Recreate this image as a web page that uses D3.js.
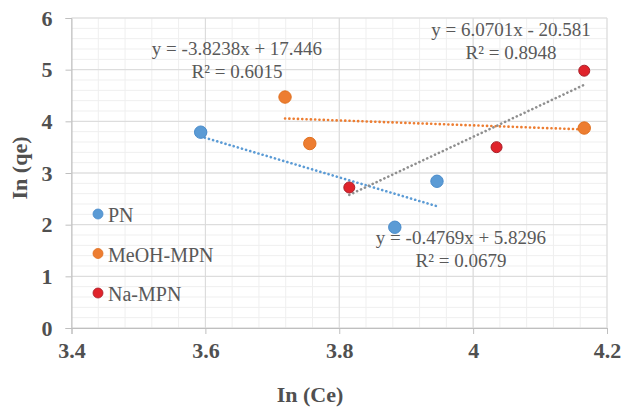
<!DOCTYPE html>
<html>
<head>
<meta charset="utf-8">
<script src="https://cdn.jsdelivr.net/npm/d3@7"></script>
<style>
  body { margin: 0; background: #fff; }
  svg text { font-family: "Liberation Serif", "Times New Roman", serif; }
</style>
</head>
<body>
<div id="chart"></div>
<script>
// series names and values
const seriesNames = ["PN", "MeOH-MPN", "Na-MPN"];
const pnX = [3.593, 3.883, 3.946];
const pnY = [3.79, 1.95, 2.84];
const meohX = [3.719, 3.756, 4.166];
const meohY = [4.47, 3.57, 3.87];
const naX = [3.815, 4.035, 4.166];
const naY = [2.72, 3.50, 4.98];

// trendline coefficients as printed on the chart
const slopes = [-3.8238, -0.4769, 6.0701];
const intercepts = [17.446, 5.8296, -20.581];
const eqLabels = ["y = -3.8238x + 17.446", "y = -0.4769x + 5.8296", "y = 6.0701x - 20.581"];
const r2Labels = ["R² = 0.6015", "R² = 0.0679", "R² = 0.8948"];

const xTicks = [3.4, 3.6, 3.8, 4.0, 4.2];
const yTicks = [0, 1, 2, 3, 4, 5, 6];

const width = 622, height = 410;
const margin = {top: 18, right: 15, bottom: 82, left: 71.5};

const colors = ["#5b9bd5", "#ed7d31", "#e0232b"];
const strokes = ["#4a8ccb", "#e0701f", "#a8202a"];
const trendColors = ["#5b9bd5", "#ed7d31", "#8f8f8f"];
const serif = "'Liberation Serif', 'Times New Roman', serif";

const svg = d3.select("#chart").append("svg")
    .attr("width", width)
    .attr("height", height);

const x = d3.scaleLinear().domain([3.4, 4.2]).range([margin.left, width - margin.right]);
const y = d3.scaleLinear().domain([0, 6]).range([height - margin.bottom, margin.top]);

// minor grid
const grid = svg.append("g");
grid.selectAll(".vminor")
    .data(d3.range(0, 21).map(i => 3.4 + i * 0.04))
    .join("line")
    .attr("x1", d => x(d)).attr("x2", d => x(d))
    .attr("y1", y(0)).attr("y2", y(6))
    .attr("stroke", "#efefef").attr("stroke-width", 1);
grid.selectAll(".hminor")
    .data(d3.range(0, 31).map(i => i * 0.2))
    .join("line")
    .attr("y1", d => y(d)).attr("y2", d => y(d))
    .attr("x1", x(3.4)).attr("x2", x(4.2))
    .attr("stroke", "#efefef").attr("stroke-width", 1);

// major grid
grid.selectAll(".vmajor")
    .data(xTicks)
    .join("line")
    .attr("x1", d => x(d)).attr("x2", d => x(d))
    .attr("y1", y(0)).attr("y2", y(6))
    .attr("stroke", "#d9d9d9").attr("stroke-width", 1);
grid.selectAll(".hmajor")
    .data(yTicks)
    .join("line")
    .attr("y1", d => y(d)).attr("y2", d => y(d))
    .attr("x1", x(3.4)).attr("x2", x(4.2))
    .attr("stroke", "#d9d9d9").attr("stroke-width", 1);

// axes
const xAxis = svg.append("g")
    .attr("transform", `translate(0,${y(0)})`)
    .call(d3.axisBottom(x).tickValues(xTicks).tickSize(6).tickPadding(8)
        .tickFormat(d => String(+d.toFixed(1))));
const yAxis = svg.append("g")
    .attr("transform", `translate(${x(3.4)},0)`)
    .call(d3.axisLeft(y).tickValues(yTicks).tickSize(6).tickPadding(13)
        .tickFormat(d3.format("d")));

[xAxis, yAxis].forEach(a => {
    a.attr("font-family", serif).attr("font-size", 22).attr("font-weight", "bold");
    a.select(".domain").attr("stroke", "#bfbfbf");
    a.selectAll(".tick line").attr("stroke", "#bfbfbf");
    a.selectAll(".tick text").attr("fill", "#505050");
});

// axis titles
svg.append("text")
    .attr("x", 310).attr("y", 402)
    .attr("text-anchor", "middle")
    .attr("fill", "#505050")
    .style("font-size", "22px").style("font-weight", "bold")
    .text("In (Ce)");
svg.append("text")
    .attr("transform", "translate(27,168) rotate(-90)")
    .attr("text-anchor", "middle")
    .attr("fill", "#505050")
    .style("font-size", "22px").style("font-weight", "bold")
    .text("In (qe)");

const series = [
    {xs: pnX, ys: pnY},
    {xs: meohX, ys: meohY},
    {xs: naX, ys: naY}
];

// trendlines
series.forEach((s, i) => {
    const [x0, x1] = d3.extent(s.xs);
    svg.append("line")
        .attr("x1", x(x0)).attr("y1", y(slopes[i] * x0 + intercepts[i]))
        .attr("x2", x(x1)).attr("y2", y(slopes[i] * x1 + intercepts[i]))
        .attr("stroke", trendColors[i])
        .attr("stroke-width", 2.6)
        .attr("stroke-linecap", "round")
        .attr("stroke-dasharray", "0.1 4.2");
});

// points
series.forEach((s, i) => {
    svg.append("g").selectAll("circle")
        .data(d3.zip(s.xs, s.ys))
        .join("circle")
        .attr("cx", d => x(d[0]))
        .attr("cy", d => y(d[1]))
        .attr("r", i === 2 ? 5.5 : 6.2)
        .attr("fill", colors[i])
        .attr("stroke", strokes[i])
        .attr("stroke-width", 1);
});

// equation labels
const eqPos = [[237, 55], [461, 244], [511, 36]];
eqLabels.forEach((t, i) => {
    const g = svg.append("g").attr("fill", "#595959").style("font-size", "19px");
    g.append("text").attr("x", eqPos[i][0]).attr("y", eqPos[i][1])
        .attr("text-anchor", "middle").text(t);
    g.append("text").attr("x", eqPos[i][0]).attr("y", eqPos[i][1] + 23)
        .attr("text-anchor", "middle").text(r2Labels[i]);
});

// legend
const legend = svg.append("g").attr("transform", "translate(98,214)");
seriesNames.forEach((name, i) => {
    const row = legend.append("g").attr("transform", `translate(0,${i * 39.5})`);
    row.append("circle").attr("r", 5)
        .attr("fill", colors[i]).attr("stroke", strokes[i]).attr("stroke-width", 0.8);
    row.append("text").attr("x", 10).attr("y", 8)
        .attr("fill", "#595959").style("font-size", "20px").text(name);
});
</script>
</body>
</html>
